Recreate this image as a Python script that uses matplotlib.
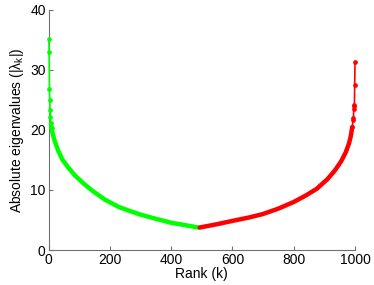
import matplotlib
matplotlib.use("Agg")
import matplotlib.pyplot as plt

# --- data ---
green_rank = [1, 2, 3, 4, 5, 6, 7, 10, 14, 20, 32, 45, 62, 85, 114, 145, 184,
              228, 260, 300, 350, 400, 450, 492]
green_vals = [35.2, 33.0, 26.8, 25.0, 23.3, 22.2, 21.1, 20.3, 19.3, 18.2, 16.5,
              15.1, 13.9, 12.5, 11.1, 9.8, 8.4, 7.2, 6.6, 5.9, 5.2, 4.55, 4.1, 3.72]

red_rank = [493, 550, 600, 657, 700, 750, 800, 840, 875, 910, 935, 955, 970,
            980, 986, 991, 994, 995, 996, 997, 998, 999, 1000]
red_vals = [3.75, 4.3, 4.85, 5.45, 6.0, 6.9, 8.0, 9.1, 10.2, 11.8, 13.3, 14.8,
            16.3, 17.7, 18.9, 20.5, 21.7, 22.0, 23.5, 24.0, 24.1, 27.5, 31.3]

x_ticks = [0, 200, 400, 600, 800, 1000]
y_ticks = [0, 10, 20, 30, 40]

plt.rcParams['font.family'] = ['Liberation Sans', 'DejaVu Sans']
plt.rcParams['mathtext.fontset'] = 'custom'
plt.rcParams['mathtext.rm'] = 'Liberation Sans'
plt.rcParams['mathtext.it'] = 'Liberation Sans'

fig = plt.figure(figsize=(3.74, 2.85), dpi=100)
ax = fig.add_axes([0.1297, 0.1228, 0.9492 - 0.1297, 0.965 - 0.1228])

GREEN = '#00ff00'
RED = '#ff0000'

# thin connecting line
ax.plot(green_rank, green_vals, color=GREEN, lw=1.2, clip_on=False, zorder=3)
ax.plot(red_rank, red_vals, color=RED, lw=1.2, clip_on=False, zorder=3)
# isolated point markers at the extreme ranks
ax.plot(green_rank[:8], green_vals[:8], ls='none', color=GREEN, marker='o',
        ms=3.4, mew=0, clip_on=False, zorder=4)
ax.plot(red_rank[-8:], red_vals[-8:], ls='none', color=RED, marker='o',
        ms=3.4, mew=0, clip_on=False, zorder=4)
# dense part of the curves (markers at every rank merge into a thick band)
ax.plot(green_rank[6:], green_vals[6:], color=GREEN, lw=3.2,
        solid_capstyle='round', solid_joinstyle='round', zorder=3)
ax.plot(red_rank[:-7], red_vals[:-7], color=RED, lw=3.2,
        solid_capstyle='round', solid_joinstyle='round', zorder=3)

ax.set_xlim(0, 1000)
ax.set_ylim(0, 40)
ax.set_xticks(x_ticks)
ax.set_yticks(y_ticks)

for s in ['top', 'right']:
    ax.spines[s].set_visible(False)
for s in ['left', 'bottom']:
    ax.spines[s].set_color('#707070')
    ax.spines[s].set_linewidth(0.8)

ax.tick_params(direction='in', length=3, width=0.8, color='#707070',
               labelsize=10, pad=2, labelcolor='black')

ax.set_xlabel('Rank (k)', fontsize=10, labelpad=0)
ax.set_ylabel(r'Absolute eigenvalues ($|\lambda_k|$)', fontsize=10, labelpad=3)

fig.savefig('out.png', dpi=100)
